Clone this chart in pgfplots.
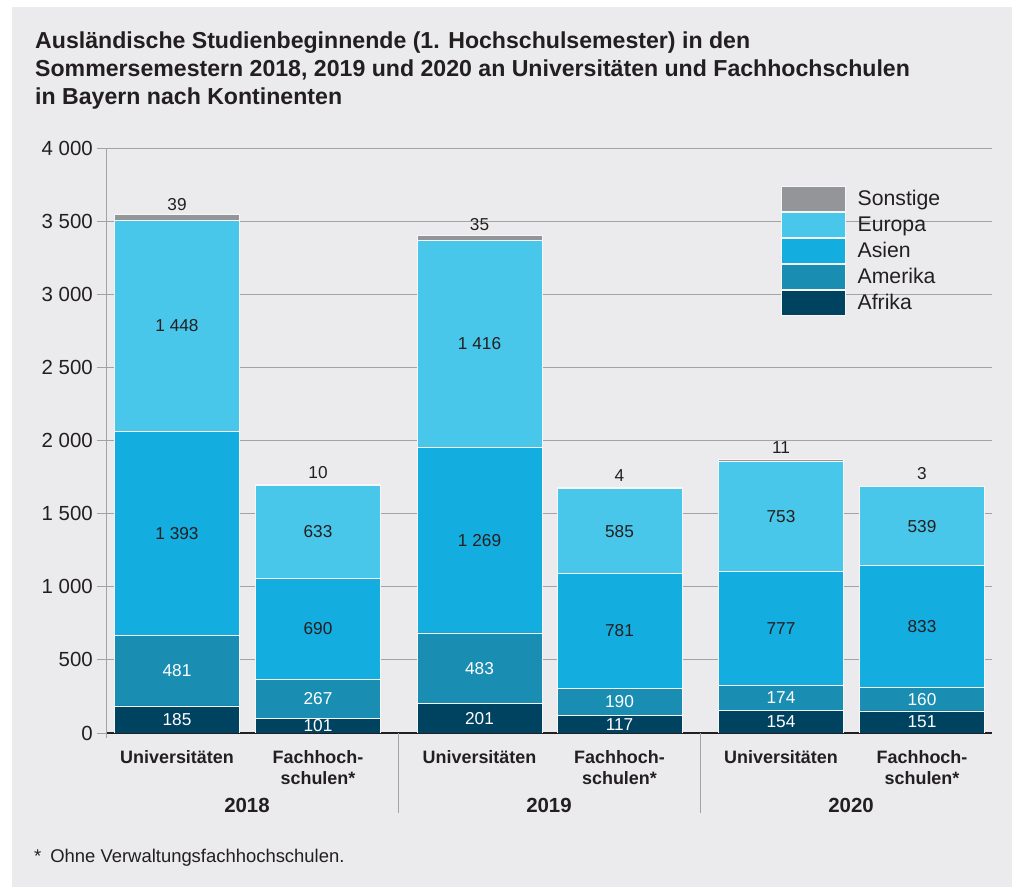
\documentclass[border=0pt]{standalone}
\usepackage{fontspec}
\setmainfont{Liberation Sans}
\usepackage{pgfplots}
\pgfplotsset{compat=1.18}
\definecolor{bg}{HTML}{EBEBED}
\definecolor{cAf}{HTML}{004361}
\definecolor{cAm}{HTML}{1A8DB3}
\definecolor{cAs}{HTML}{14ADE0}
\definecolor{cEu}{HTML}{49C7EA}
\definecolor{cSo}{HTML}{939598}
\definecolor{gridc}{HTML}{A3A3A6}
\definecolor{txt}{HTML}{231F20}
\begin{document}
\begin{tikzpicture}[x=1bp,y=1bp]
\useasboundingbox (0,0) rectangle (1015,887);
\fill[white] (0,0) rectangle (1015,887);
\fill[bg] (12,0) rectangle (1012,880);
\node[anchor=north west, align=left, inner sep=0, text=txt,
  font=\fontsize{23.2}{27.7}\selectfont\bfseries] at (35,855)
  {Ausländische Studienbeginnende (1. Hochschulsemester) in den\\
   Sommersemestern 2018, 2019 und 2020 an Universitäten und Fachhochschulen\\
   in Bayern nach Kontinenten};
\begin{axis}[
  at={(106bp,154bp)}, anchor=south west,
  scale only axis, width=886bp, height=585bp,
  xmin=106, xmax=992, ymin=0, ymax=4000,
  ybar stacked, bar width=125,
  axis x line*=bottom, axis y line*=left,
  x axis line style={txt, line width=1.6bp, -},
  y axis line style={gridc, line width=0.8bp, -},
  ymajorgrids, grid style={gridc, line width=0.8bp},
  ytick={0,500,...,4000},
  tick align=outside, major tick length=9bp,
  ytick style={gridc, line width=0.8bp},
  xtick style={draw=none},
  scaled y ticks=false,
  /pgf/number format/.cd, 1000 sep={\kern0.28em}, assume math mode=true,
  /pgfplots/.cd,
  yticklabel style={font=\fontsize{20.5}{24}\selectfont, text=txt, inner sep=4bp},
  xtick={177,318,479.5,619.5,781,922},
  xticklabels={Universitäten,{Fachhoch-\\schulen*},Universitäten,{Fachhoch-\\schulen*},Universitäten,{Fachhoch-\\schulen*}},
  xticklabel style={font=\fontsize{18}{21.5}\selectfont\bfseries, text=txt, align=center, anchor=north, yshift=-5bp},
  every axis plot/.append style={draw=white!60!bg, line width=0.8bp},
  nodes near coords,
  every node near coord/.append style={font=\fontsize{17.3}{20}\selectfont},
  legend image code/.code={\draw[#1, draw=white!60!bg, line width=0.6bp] (0bp,-12.7bp) rectangle (64bp,12.7bp);},
  reverse legend,
  legend style={at={(0.7619,0.935)}, anchor=north west, draw=none, fill=none,
    inner sep=0pt, outer sep=0pt, row sep=0pt, column sep=11bp,
    font=\fontsize{21.3}{24}\selectfont, text=txt, cells={anchor=west},
    nodes={inner sep=1bp}},
]
\addplot[fill=cAf, every node near coord/.append style={text=white}] coordinates {(177,185) (318,101) (479.5,201) (619.5,117) (781,154) (922,151)};
\addplot[fill=cAm, every node near coord/.append style={text=white}] coordinates {(177,481) (318,267) (479.5,483) (619.5,190) (781,174) (922,160)};
\addplot[fill=cAs, every node near coord/.append style={text=txt}] coordinates {(177,1393) (318,690) (479.5,1269) (619.5,781) (781,777) (922,833)};
\addplot[fill=cEu, every node near coord/.append style={text=txt}] coordinates {(177,1448) (318,633) (479.5,1416) (619.5,585) (781,753) (922,539)};
\addplot[fill=cSo, every node near coord/.append style={text=txt, anchor=south, yshift=3bp}] coordinates {(177,39) (318,10) (479.5,35) (619.5,4) (781,11) (922,3)};
\legend{Afrika,Amerika,Asien,Europa,Sonstige}
\end{axis}
\draw[gridc, line width=0.8bp] (106.4,154) -- (106.4,149);
\draw[gridc, line width=0.8bp] (398,154) -- (398,74);
\draw[gridc, line width=0.8bp] (700,154) -- (700,74);
\begin{scope}[every node/.style={font=\fontsize{20.5}{24}\selectfont\bfseries, text=txt}]
\node at (247,82) {2018};
\node at (549,82) {2019};
\node at (851,82) {2020};
\end{scope}
\node[anchor=west, inner sep=0, text=txt, font=\fontsize{18.5}{22}\selectfont] at (34,29) {*\hspace{9bp}Ohne Verwaltungsfachhochschulen.};
\end{tikzpicture}
\end{document}
